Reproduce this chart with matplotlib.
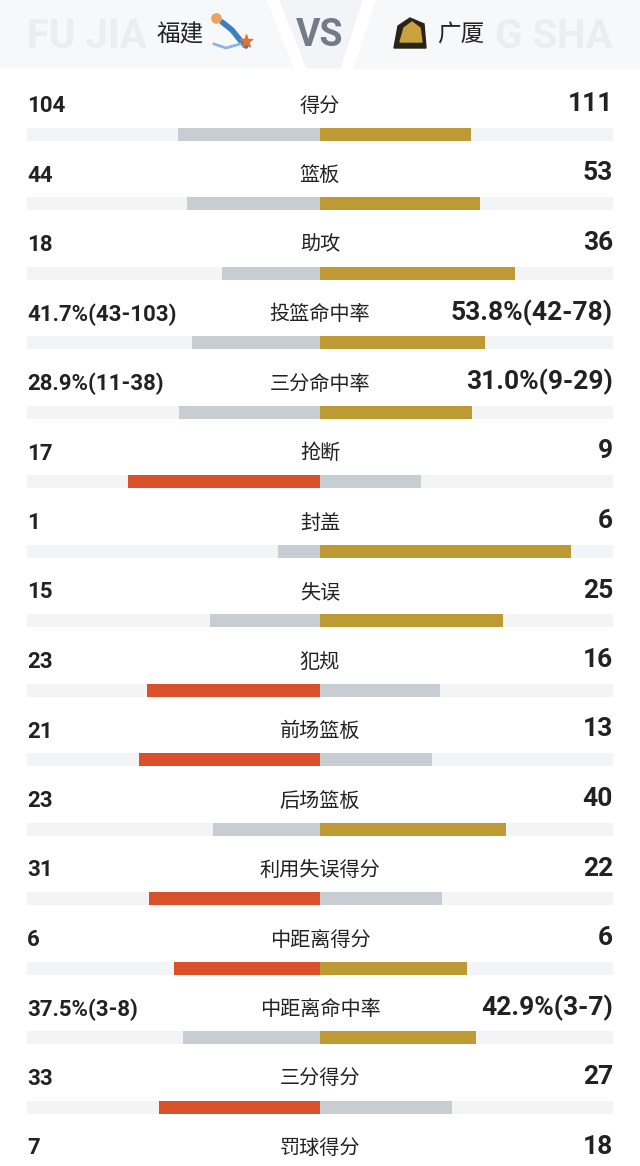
import matplotlib
matplotlib.use('Agg')
import matplotlib.pyplot as plt
from matplotlib.patches import Polygon

# data
stats = ['得分', '篮板', '助攻', '投篮命中率', '三分命中率', '抢断', '封盖', '失误',
         '犯规', '前场篮板', '后场篮板', '利用失误得分', '中距离得分', '中距离命中率',
         '三分得分', '罚球得分']
fj_vals = [104, 44, 18, 41.7, 28.9, 17, 1, 15, 23, 21, 23, 31, 6, 37.5, 33, 7]
gs_vals = [111, 53, 36, 53.8, 31.0, 9, 6, 25, 16, 13, 40, 22, 6, 42.9, 27, 18]
fj_text = ['104', '44', '18', '41.7%(43-103)', '28.9%(11-38)', '17', '1', '15',
           '23', '21', '23', '31', '6', '37.5%(3-8)', '33', '7']
gs_text = ['111', '53', '36', '53.8%(42-78)', '31.0%(9-29)', '9', '6', '25',
           '16', '13', '40', '22', '6', '42.9%(3-7)', '27', '18']

RED = '#D9502A'
GOLD = '#BD9A33'
GREY = '#C8CCD3'
TRACK = '#F3F4F6'
DARK = '#222222'

cjk = ['Noto Sans CJK SC', 'DejaVu Sans']

fig = plt.figure(figsize=(6.4, 11.66), dpi=100)
ax = fig.add_axes([0, 0, 1, 1])
ax.set_xlim(0, 640)
ax.set_ylim(1166, 0)
ax.axis('off')

# header band: light panels split by two white slanted stripes
ax.add_patch(Polygon([(0, 0), (266, 0), (293, 68), (0, 68)], color='#F7F8FA', zorder=0))
ax.add_patch(Polygon([(280, 0), (362, 0), (340, 68), (307, 68)], color='#F3F4F7', zorder=0))
ax.add_patch(Polygon([(376, 0), (640, 0), (640, 68), (354, 68)], color='#F7F8FA', zorder=0))
# watermark, only the parts not hidden behind the team names
ax.text(27, 37, 'FU JIA', fontsize=29, fontweight='bold', color='#EBEDF1',
        ha='left', va='center', family='Roboto', zorder=1)
ax.text(613, 37, 'G SHA', fontsize=29, fontweight='bold', color='#EBEDF1',
        ha='right', va='center', family='Roboto', zorder=1)
ax.text(180, 35, '福建', fontsize=17, color=DARK, ha='center', va='center', family=cjk, zorder=3)
ax.text(320, 35, 'VS', fontsize=27, fontweight='bold', color='#737A88',
        ha='center', va='center', family='Roboto', zorder=3)
ax.text(461, 35, '广厦', fontsize=17, color=DARK, ha='center', va='center', family=cjk, zorder=3)

# simple logo marks
ax.plot([222, 232, 240, 246], [22, 30, 40, 46], color='#3C7DC4', lw=4, solid_capstyle='round', zorder=3)
ax.plot([214, 226, 240], [44, 48, 44], color='#8DB6DE', lw=2, zorder=3)
ax.scatter([246], [41], marker='*', s=90, color='#E4702E', zorder=4)
ax.scatter([216], [18], marker='o', s=45, color='#E9A45E', zorder=4)
ax.add_patch(Polygon([(394, 48), (398, 26), (410, 18), (424, 24), (426, 48)],
                     color='#2A2418', zorder=3))
ax.add_patch(Polygon([(400, 42), (404, 28), (412, 22), (420, 28), (422, 42)],
                     color='#C9A23F', zorder=4))

# rows
center = 320
half = 293
y0 = 106
step = 69.5
for i, name in enumerate(stats):
    ly = y0 + i * step
    by = ly + 28
    a, b = fj_vals[i], gs_vals[i]
    tot = a + b
    la = a / tot * half
    lb = b / tot * half
    ax.barh(by, 2 * half, left=center - half, height=13, color=TRACK, zorder=1)
    ax.barh(by, -la, left=center, height=13, color=RED if a >= b else GREY, zorder=2)
    ax.barh(by, lb, left=center, height=13, color=GOLD if b >= a else GREY, zorder=2)
    ax.text(27, ly, fj_text[i], fontsize=16, fontweight='bold', color=DARK,
            ha='left', va='center', family='Roboto')
    ax.text(613, ly - 2, gs_text[i], fontsize=19, fontweight='bold', color=DARK,
            ha='right', va='center', family='Roboto')
    ax.text(center, ly, name, fontsize=14.5, color=DARK, ha='center', va='center', family=cjk)

fig.savefig('out.png', dpi=100)
